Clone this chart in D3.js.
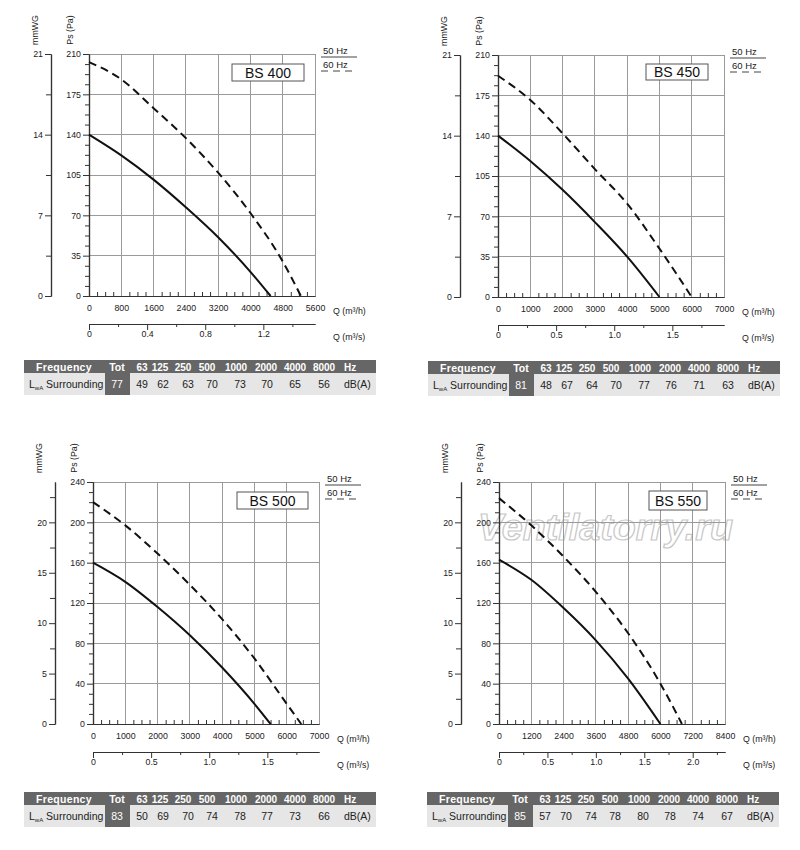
<!DOCTYPE html>
<html lang="en">
<head>
<meta charset="UTF-8" />
<title>BS fan curves</title>
<script src="https://d3js.org/d3.v7.min.js"></script>
<style>
body { margin: 0; background: #fff; }
svg { display: block; font-family: "Liberation Sans", Arial, sans-serif; }
.lbl { font-family: "Liberation Sans Narrow", "Liberation Sans", Arial, sans-serif; font-size: 8.8px; fill: #222; }
.grid { stroke: #9a9a9a; stroke-width: 1; shape-rendering: crispEdges; }
.tbl { font-size: 10.5px; }
</style>
</head>
<body>
<svg width="800" height="850"></svg>
<script>
// ---- data ----
const models = ["BS 400", "BS 450", "BS 500", "BS 550"];

// Q (m3/h) and Ps (Pa), 50 Hz solid / 60 Hz dashed
const q400_50 = [0, 800, 1600, 2400, 3200, 4000, 4500];
const ps400_50 = [140, 122, 101, 77, 51, 21, 0];
const q400_60 = [0, 800, 1600, 2400, 3200, 4000, 4800, 5250];
const ps400_60 = [203, 188, 163, 137, 107, 72, 30, 0];

const q450_50 = [0, 1000, 2000, 3000, 4000, 5000];
const ps450_50 = [140, 118, 93, 65, 35, 0];
const q450_60 = [0, 1000, 2000, 3000, 4000, 5000, 6000];
const ps450_60 = [192, 171, 142, 111, 81, 42, 0];

const q500_50 = [0, 1000, 2000, 3000, 4000, 5000, 5500];
const ps500_50 = [160, 141, 116, 88, 56, 20, 0];
const q500_60 = [0, 1000, 2000, 3000, 4000, 5000, 6000, 6450];
const ps500_60 = [220, 197, 169, 138, 104, 65, 20, 0];

const q550_50 = [0, 1200, 2400, 3600, 4800, 6000];
const ps550_50 = [163, 143, 115, 83, 45, 0];
const q550_60 = [0, 1200, 2400, 3600, 4800, 6000, 6800];
const ps550_60 = [224, 197, 166, 131, 90, 40, 0];

// tick labels
const qhTicks400 = [0, 800, 1600, 2400, 3200, 4000, 4800, 5600];
const qhTicks450 = [0, 1000, 2000, 3000, 4000, 5000, 6000, 7000];
const qhTicks500 = [0, 1000, 2000, 3000, 4000, 5000, 6000, 7000];
const qhTicks550 = [0, 1200, 2400, 3600, 4800, 6000, 7200, 8400];
const qsTicks400 = [0, 0.4, 0.8, 1.2];
const qsTicks450 = [0, 0.5, 1.0, 1.5];
const qsTicks500 = [0, 0.5, 1.0, 1.5];
const qsTicks550 = [0, 0.5, 1.0, 1.5, 2.0];
const psTicks210 = [0, 35, 70, 105, 140, 175, 210];
const psTicks240 = [0, 40, 80, 120, 160, 200, 240];
const mmTicks21 = [0, 7, 14, 21];
const mmTicks24 = [0, 5, 10, 15, 20];

// sound power table
const bands = [63, 125, 250, 500, 1000, 2000, 4000, 8000];
const lwaTot = [77, 81, 83, 85];
const lwa400 = [49, 62, 63, 70, 73, 70, 65, 56];
const lwa450 = [48, 67, 64, 70, 77, 76, 71, 63];
const lwa500 = [50, 69, 70, 74, 78, 77, 73, 66];
const lwa550 = [57, 70, 74, 78, 80, 78, 74, 67];

// ---- layout ----
const panels = [
  { L: 89, T: 54, R: 315, B: 296, box: [232, 64, 304, 81], qh: qhTicks400, qs: qsTicks400, qsStep: 0.2, ps: psTicks210, mm: mmTicks21, mmMax: 21, c50: [q400_50, ps400_50], c60: [q400_60, ps400_60], lwa: lwa400, tbl: [24, 360] },
  { L: 498, T: 55, R: 724, B: 297, box: [646, 64, 708, 80], qh: qhTicks450, qs: qsTicks450, qsStep: 0.25, ps: psTicks210, mm: mmTicks21, mmMax: 21, c50: [q450_50, ps450_50], c60: [q450_60, ps450_60], lwa: lwa450, tbl: [428, 361] },
  { L: 93, T: 482, R: 319, B: 724, box: [237, 492, 308, 509], qh: qhTicks500, qs: qsTicks500, qsStep: 0.25, ps: psTicks240, mm: mmTicks24, mmMax: 24, c50: [q500_50, ps500_50], c60: [q500_60, ps500_60], lwa: lwa500, tbl: [24, 792] },
  { L: 499, T: 482, R: 725, B: 724, box: [649, 491, 707, 510], qh: qhTicks550, qs: qsTicks550, qsStep: 0.25, ps: psTicks240, mm: mmTicks24, mmMax: 24, c50: [q550_50, ps550_50], c60: [q550_60, ps550_60], lwa: lwa550, tbl: [427, 792] }
];

const svg = d3.select("svg");
const fmtInt = d3.format("d");

function subTicks(ticks, n) {
  const out = [];
  const step = (ticks[1] - ticks[0]) / n;
  for (let i = 0; i < ticks.length - 1; i++)
    for (let k = 1; k < n; k++) out.push(ticks[i] + k * step);
  return out;
}

function styleAxis(sel) {
  sel.attr("font-family", null).attr("font-size", null);
  sel.selectAll("text").attr("class", "lbl");
  sel.selectAll("line, path").attr("stroke", "#333");
}

panels.forEach((p, i) => {
  const g = svg.append("g");
  const qhMax = p.qh[p.qh.length - 1];
  const psMax = p.ps[p.ps.length - 1];

  const x = d3.scaleLinear().domain([0, qhMax]).range([p.L, p.R]);
  const y = d3.scaleLinear().domain([0, psMax]).range([p.B, p.T]);
  const ym = d3.scaleLinear().domain([0, psMax / 10]).range([p.B, p.T]);
  const xs = d3.scaleLinear().domain([0, qhMax / 3600]).range([p.L, p.R]);

  // watermark (only on BS 550)
  if (i === 3) {
    g.append("text")
      .attr("x", 478).attr("y", 540)
      .attr("textLength", 255).attr("lengthAdjust", "spacingAndGlyphs")
      .style("font-size", "36px").style("font-weight", "bold").style("font-style", "italic")
      .style("fill", "#fff").style("stroke", "#c8c8c8").style("stroke-width", 1.2)
      .text("Ventilatorry.ru");
  }

  // grid
  g.selectAll(".vg").data(p.qh.slice(1)).enter().append("line")
    .attr("class", "grid")
    .attr("x1", d => x(d)).attr("x2", d => x(d))
    .attr("y1", p.T).attr("y2", p.B);
  g.selectAll(".hg").data(p.ps.slice(1)).enter().append("line")
    .attr("class", "grid")
    .attr("x1", p.L).attr("x2", p.R)
    .attr("y1", d => y(d)).attr("y2", d => y(d));

  // Pa axis
  g.append("g").attr("transform", `translate(${p.L},0)`)
    .call(d3.axisLeft(y).tickValues(subTicks(p.ps, 4)).tickSize(4).tickFormat("").tickSizeOuter(0))
    .call(styleAxis);
  g.append("g").attr("transform", `translate(${p.L},0)`)
    .call(d3.axisLeft(y).tickValues(p.ps).tickSize(6).tickPadding(2).tickFormat(fmtInt).tickSizeOuter(0))
    .call(styleAxis);

  // mmWG axis
  const mmX = p.L - 38;
  const mmStep = p.mm[1] - p.mm[0];
  const mmMinor = [];
  for (let v = mmStep / 2; v <= p.mmMax + 1e-9; v += mmStep) mmMinor.push(v);
  g.append("g").attr("transform", `translate(${mmX},0)`)
    .call(d3.axisLeft(ym).tickValues(mmMinor).tickSize(5).tickFormat("").tickSizeOuter(0))
    .call(styleAxis);
  g.append("g").attr("transform", `translate(${mmX},0)`)
    .call(d3.axisLeft(ym).tickValues(p.mm).tickSize(6).tickPadding(2).tickFormat(fmtInt).tickSizeOuter(0))
    .call(styleAxis);

  // axis titles
  g.append("text").attr("class", "lbl")
    .attr("transform", `translate(${p.L - 51},${p.T - 24}) rotate(-90)`)
    .attr("text-anchor", "middle").text("mmWG");
  g.append("text").attr("class", "lbl")
    .attr("transform", `translate(${p.L - 16},${p.T - 24}) rotate(-90)`)
    .attr("text-anchor", "middle").text("Ps (Pa)");

  // Q m3/h axis
  g.append("g").attr("transform", `translate(0,${p.B})`)
    .call(d3.axisTop(x).tickValues(subTicks(p.qh, 4)).tickSize(4).tickFormat("").tickSizeOuter(0))
    .call(styleAxis);
  g.append("g").attr("transform", `translate(0,${p.B})`)
    .call(d3.axisBottom(x).tickValues(p.qh).tickSize(0).tickPadding(9).tickFormat(fmtInt).tickSizeOuter(0))
    .call(styleAxis);
  g.append("text").attr("class", "lbl")
    .attr("x", p.R + 18).attr("y", p.B + 18).text("Q (m³/h)");

  // Q m3/s axis
  const qsMax = qhMax / 3600;
  const qsAll = d3.range(0, qsMax + 1e-9, p.qsStep).filter(v => !p.qs.some(t => Math.abs(t - v) < 1e-6));
  const sy = p.B + 28;
  g.append("g").attr("transform", `translate(0,${sy})`)
    .call(d3.axisBottom(xs).tickValues(qsAll).tickSize(3).tickFormat("").tickSizeOuter(0))
    .call(styleAxis);
  g.append("g").attr("transform", `translate(0,${sy})`)
    .call(d3.axisBottom(xs).tickValues(p.qs).tickSize(6).tickPadding(1)
      .tickFormat(d => d === 0 ? "0" : d.toFixed(1)).tickSizeOuter(0))
    .call(styleAxis);
  g.selectAll("path.domain").attr("stroke-width", 1.2);
  g.append("text").attr("class", "lbl")
    .attr("x", p.R + 18).attr("y", sy + 16).text("Q (m³/s)");

  // curves
  const line = d3.line().x(d => x(d[0])).y(d => y(d[1])).curve(d3.curveMonotoneX);
  const c50 = d3.zip(p.c50[0], p.c50[1]);
  const c60 = d3.zip(p.c60[0], p.c60[1]);
  g.append("path").datum(c50).attr("d", line)
    .attr("fill", "none").attr("stroke", "#111").attr("stroke-width", 2);
  g.append("path").datum(c60).attr("d", line)
    .attr("fill", "none").attr("stroke", "#111").attr("stroke-width", 2)
    .attr("stroke-dasharray", "8,5");

  // model box
  const [bx0, by0, bx1, by1] = p.box;
  g.append("rect").attr("x", bx0).attr("y", by0)
    .attr("width", bx1 - bx0).attr("height", by1 - by0)
    .attr("fill", "#fff").attr("stroke", "#555").attr("stroke-width", 1);
  g.append("text").attr("x", (bx0 + bx1) / 2).attr("y", (by0 + by1) / 2 + 5)
    .attr("text-anchor", "middle").style("font-size", "14px").style("fill", "#111")
    .text(models[i]);

  // legend
  const lx = p.R + 6;
  g.append("text").style("font-size", "9.5px").style("fill", "#222").attr("x", lx + 2).attr("y", p.T).text("50 Hz");
  g.append("line").attr("x1", lx).attr("x2", lx + 36).attr("y1", p.T + 3).attr("y2", p.T + 3)
    .attr("stroke", "#444").attr("stroke-width", 1);
  g.append("text").style("font-size", "9.5px").style("fill", "#222").attr("x", lx + 2).attr("y", p.T + 14).text("60 Hz");
  g.append("line").attr("x1", lx).attr("x2", lx + 36).attr("y1", p.T + 17).attr("y2", p.T + 17)
    .attr("stroke", "#444").attr("stroke-width", 1).attr("stroke-dasharray", "7,5");

  // table
  const [tx, ty] = p.tbl;
  const tw = 352, h1 = 13, h2 = 22;
  const t = g.append("g").attr("class", "tbl").attr("transform", `translate(${tx},${ty})`);
  t.append("rect").attr("width", tw).attr("height", h1).attr("fill", "#666");
  t.append("rect").attr("y", h1).attr("width", tw).attr("height", h2).attr("fill", "#e6e6e6");
  t.append("rect").attr("x", 81).attr("y", h1).attr("width", 25).attr("height", h2).attr("fill", "#666");

  const hx = [118, 136, 159, 183, 212, 242, 271, 300];
  const dx = [118, 139, 164, 188, 216, 243, 271, 300];
  t.append("text").attr("x", 40).attr("y", 10.5).attr("text-anchor", "middle")
    .style("font-weight", "bold").style("fill", "#fff").style("letter-spacing", "0.3px").text("Frequency");
  t.append("text").attr("x", 93).attr("y", 10.5).attr("text-anchor", "middle")
    .style("font-weight", "bold").style("fill", "#fff").text("Tot");
  t.selectAll(".hb").data(bands).enter().append("text")
    .attr("x", (d, k) => hx[k]).attr("y", 10.5).attr("text-anchor", "middle")
    .style("font-weight", "bold").style("font-size", "10px").style("fill", "#fff").text(d => d);
  t.append("text").attr("x", 320).attr("y", 10.5)
    .style("font-weight", "bold").style("font-size", "10px").style("fill", "#fff").text("Hz");

  const ry = h1 + 15;
  const lab = t.append("text").attr("x", 5).attr("y", ry).style("fill", "#222");
  lab.append("tspan").text("L");
  lab.append("tspan").attr("dy", 2).style("font-size", "6px").text("wA");
  lab.append("tspan").attr("dy", -2).text(" Surrounding");
  t.append("text").attr("x", 93).attr("y", ry).attr("text-anchor", "middle")
    .style("fill", "#fff").text(lwaTot[i]);
  t.selectAll(".dv").data(p.lwa).enter().append("text")
    .attr("x", (d, k) => dx[k]).attr("y", ry).attr("text-anchor", "middle")
    .style("fill", "#222").text(d => d);
  t.append("text").attr("x", 320).attr("y", ry).style("fill", "#222").text("dB(A)");
});
</script>
</body>
</html>
